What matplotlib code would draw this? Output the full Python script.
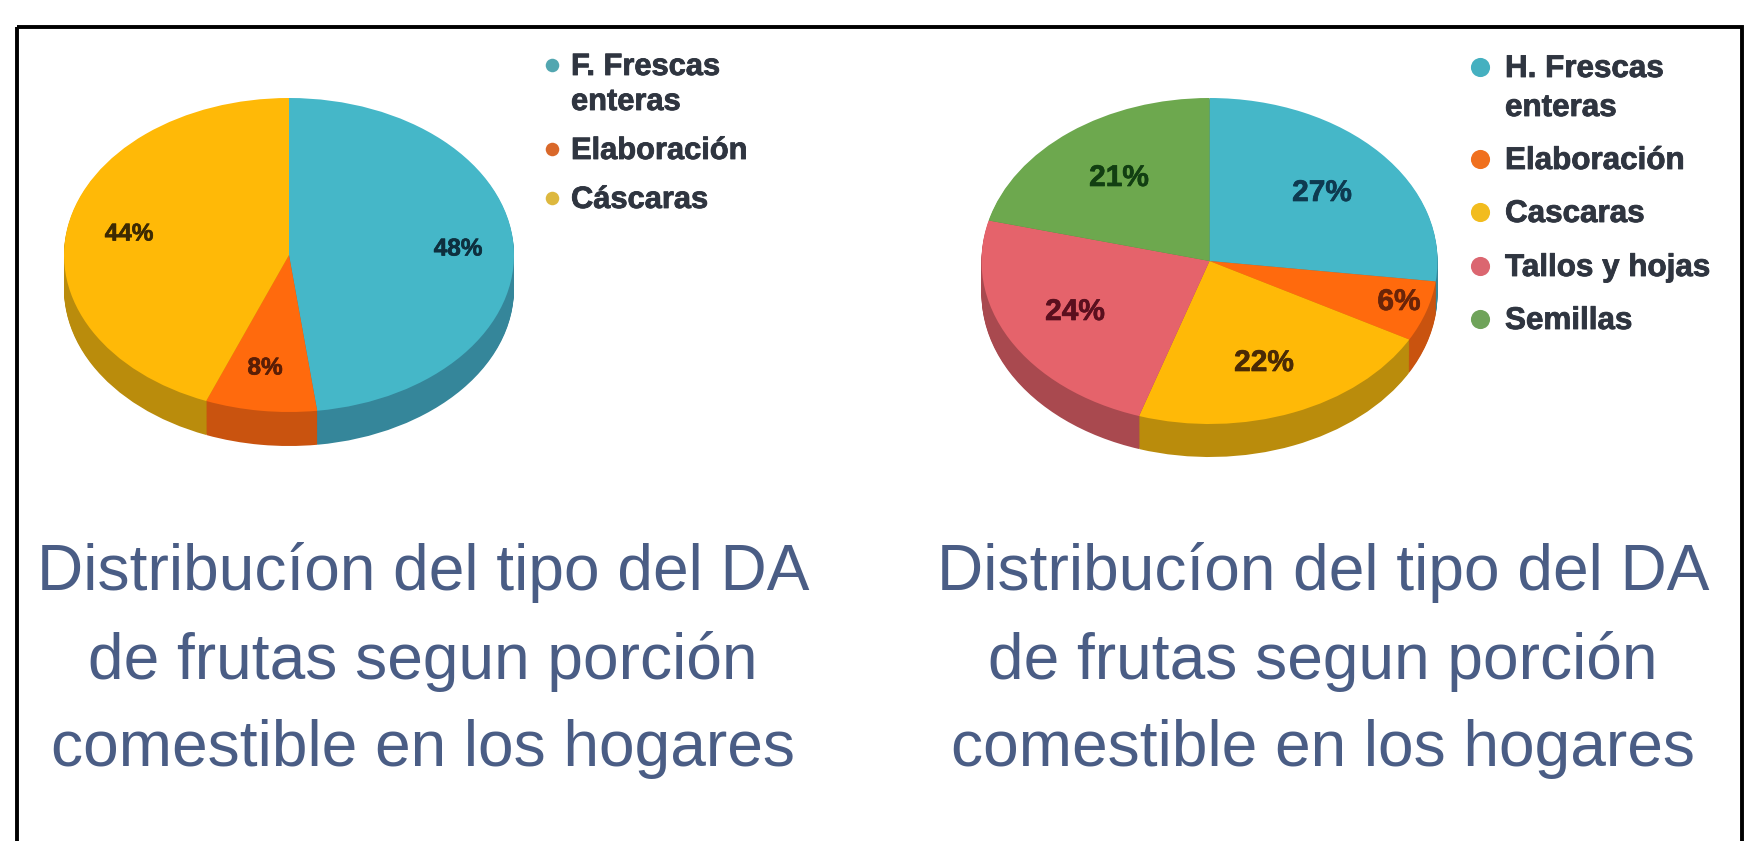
import matplotlib
matplotlib.use("Agg")
import matplotlib.pyplot as plt
import matplotlib.patheffects as pe
from matplotlib.patches import Rectangle
import numpy as np

plt.rcParams['font.family'] = ['Liberation Sans', 'DejaVu Sans']

W, H = 1752, 841

# ---- data ----
left_labels = ["F. Frescas\nenteras", "Elaboración", "Cáscaras"]
left_values = [48, 8, 44]
right_labels = ["H. Frescas\nenteras", "Elaboración", "Cascaras", "Tallos y hojas", "Semillas"]
right_values = [27, 6, 22, 24, 21]
title_lines = ["Distribucíon del tipo del DA", "de frutas segun porción", "comestible en los hogares"]

# ---- styles ----
left_top = ["#45B7C8", "#FF6A0D", "#FFB907"]
left_side = ["#35869A", "#C9530F", "#BA8C0C"]
left_dots = ["#52A6B0", "#D9682A", "#DDB83E"]
right_top = ["#45B7C8", "#FF6A0D", "#FFB907", "#E5636B", "#6DA84E"]
right_side = ["#35869A", "#C9530F", "#BA8C0C", "#A9494F", "#55843D"]
right_dots = ["#45B0C0", "#F0701E", "#F2BC1E", "#DB6670", "#6FA35A"]
pct_left = ["#0E2F3E", "#5A1E06", "#3D2A02"]
pct_right = ["#0E3A50", "#6A2408", "#4A2A05", "#5A0F1E", "#123F12"]
title_color = "#4A5D85"
legend_color = "#2F3540"


def px_axes(fig, cx, cy, rx, ry):
    """Axes whose unit circle maps on an ellipse centred at pixel (cx, cy)."""
    return fig.add_axes([(cx - rx) / W, 1 - (cy + ry) / H, 2 * rx / W, 2 * ry / H])


def pie3d(fig, values, top, side, cx, cy, rx, ry, depth):
    ax = px_axes(fig, cx, cy, rx, ry)
    n = int(depth) + 1
    for d in np.linspace(depth, 1, n):
        ax.pie(values, colors=side, startangle=90, counterclock=False,
               center=(0, -d / ry), radius=1,
               wedgeprops=dict(linewidth=0.6, edgecolor='none'))
    ax.pie(values, colors=top, startangle=90, counterclock=False,
           center=(0, 0), radius=1, wedgeprops=dict(linewidth=0))
    ax.set_aspect('auto')
    ax.set_xlim(-1, 1)
    ax.set_ylim(-1, 1)
    ax.set_clip_on(False)
    ax.patch.set_visible(False)
    for p in ax.patches:
        p.set_clip_on(False)


fig = plt.figure(figsize=(W / 100, H / 100), dpi=100, facecolor='white')

pie3d(fig, left_values, left_top, left_side, 289, 255, 225, 157, 34)
pie3d(fig, right_values, right_top, right_side, 1209.5, 261, 228, 163, 33)

ov = fig.add_axes([0, 0, 1, 1], zorder=10)
ov.set_xlim(0, W)
ov.set_ylim(H, 0)
ov.axis('off')
ov.patch.set_visible(False)

# frame (bottom edge lies below the image)
ov.add_patch(Rectangle((17, 27), 1725, 860, fill=False, edgecolor='black', linewidth=2.8))

# percentage labels
left_pct_xy = [(458, 249), (265, 368), (129, 234)]
right_pct_xy = [(1322, 193), (1399, 302), (1264, 363), (1075, 312), (1119, 178)]
for v, (x, y), c in zip(left_values, left_pct_xy, pct_left):
    ov.text(x, y, f"{v}%", ha='center', va='center', fontsize=17.5, fontweight='bold', color=c,
            path_effects=[pe.withStroke(linewidth=0.5, foreground=c)])
for v, (x, y), c in zip(right_values, right_pct_xy, pct_right):
    ov.text(x, y, f"{v}%", ha='center', va='center', fontsize=21.5, fontweight='bold', color=c,
            path_effects=[pe.withStroke(linewidth=0.5, foreground=c)])


def legend(labels, dots, dot_x, text_x, rows, lead, dot_s, fs):
    for lab, c, y in zip(labels, dots, rows):
        ov.scatter([dot_x], [y], s=dot_s, color=c, linewidths=0)
        for i, line in enumerate(lab.split("\n")):
            ov.text(text_x, y + 2 + i * lead, line, ha='left', va='center',
                    fontsize=fs, fontweight='bold', color=legend_color,
                    path_effects=[pe.withStroke(linewidth=0.6, foreground=legend_color)])


legend(left_labels, left_dots, 552, 571, [65, 149, 198], 35, 95, 22.2)
legend(right_labels, right_dots, 1480, 1505, [67, 159, 212, 266, 319], 39, 190, 22.6)

# titles
for cx in (423, 1323):
    for line, y in zip(title_lines, (572.5, 661, 749)):
        ov.text(cx, y, line, ha='center', va='center', fontsize=46.1, color=title_color)

fig.savefig("out.png", dpi=100)
